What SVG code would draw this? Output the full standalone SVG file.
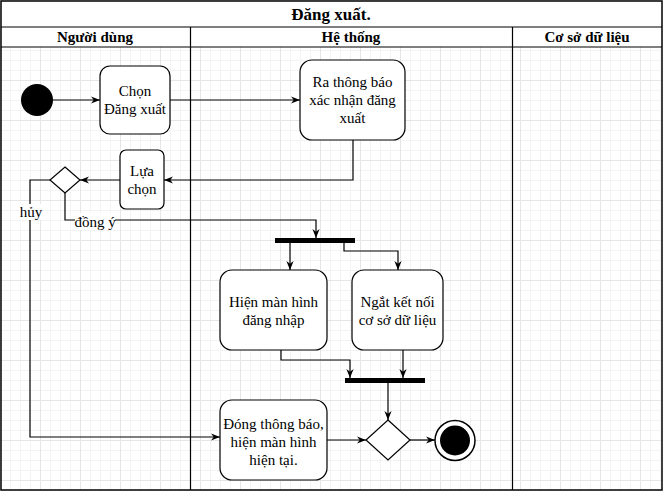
<svg xmlns="http://www.w3.org/2000/svg" width="663" height="491" viewBox="0 0 663 491">
<style>
.t{font-size:15px;text-anchor:middle;fill:#000}
.s{font-family:"Liberation Serif",serif}
.b{font-weight:bold}
.box{fill:#fff;stroke:#000;stroke-width:1.2}
.ln{fill:none;stroke:#000;stroke-width:1.2}
.c{fill:none;stroke:#000;stroke-width:1.2;marker-end:url(#arr)}
.lbl{fill:#fff}
</style>
<defs>
<pattern id="minor" width="10" height="10" patternUnits="userSpaceOnUse">
<path d="M0.5 0 V10 M0 0.5 H10" fill="none" stroke="#f3f3f3" stroke-width="1"/>
</pattern>
<pattern id="major" width="40" height="40" patternUnits="userSpaceOnUse">
<path d="M0.5 0 V40 M0 0.5 H40" fill="none" stroke="#e6e6e6" stroke-width="1"/>
</pattern>
<marker id="arr" viewBox="0 0 10 10" refX="10" refY="5" markerWidth="9" markerHeight="9" markerUnits="userSpaceOnUse" orient="auto">
<path d="M0,1 L10,5 L0,9 L3,5 Z" fill="#000"/>
</marker>
</defs>
<rect width="663" height="491" fill="#fff"/>
<rect width="663" height="491" fill="url(#minor)"/>
<rect width="663" height="491" fill="url(#major)"/>

<g id="pool">
<rect x="1" y="1" width="661" height="46" fill="#fff"/>
<rect x="1" y="1" width="661" height="489" fill="none" stroke="#000" stroke-width="1.5"/>
<line x1="1" y1="27" x2="662" y2="27" class="ln"/>
<line x1="1" y1="47" x2="662" y2="47" class="ln"/>
<line x1="190.5" y1="27" x2="190.5" y2="490" class="ln"/>
<line x1="512.5" y1="27" x2="512.5" y2="490" class="ln"/>
<text x="331" y="20" class="t b s" style="font-size:17px">Đăng xuất.</text>
<text x="95" y="42" class="t b s">Người dùng</text>
<text x="351" y="42" class="t b s">Hệ thống</text>
<text x="587" y="42" class="t b s">Cơ sở dữ liệu</text>
</g>

<g id="connectors">
<path d="M53 100 H100" class="c"/>
<path d="M170 100 H300" class="c"/>
<path d="M353 140 V180 H164" class="c"/>
<path d="M120 180 H80" class="c"/>
<path d="M50 180 H30 V437 H220" class="c"/>
<path d="M65 193 V220 H316 V238" class="c"/>
<path d="M290 243 V270" class="c"/>
<path d="M344 243 V251 H398 V270" class="c"/>
<path d="M281 350 V360 H350 V378" class="c"/>
<path d="M403 350 V378" class="c"/>
<path d="M388 383 V420" class="c"/>
<path d="M327 440 H366" class="c"/>
<path d="M410 440 H435" class="c"/>
<rect x="19" y="204" width="24" height="16" class="lbl"/>
<text x="31" y="217" class="t s">hủy</text>
<rect x="75" y="213" width="40" height="17" class="lbl"/>
<text x="95" y="227" class="t s">đồng ý</text>
</g>

<g id="start"><circle cx="37" cy="100" r="16" fill="#000"/></g>

<g id="chon">
<rect x="100" y="66" width="70" height="68" rx="10" class="box"/>
<text x="135" y="96" class="t s">Chọn</text>
<text x="135" y="114" class="t s">Đăng xuất</text>
</g>

<g id="rathongbao">
<rect x="300" y="60" width="105" height="80" rx="12" class="box"/>
<text x="352.5" y="87" class="t s">Ra thông báo</text>
<text x="352.5" y="105" class="t s">xác nhận đăng</text>
<text x="352.5" y="123" class="t s">xuất</text>
</g>

<g id="luachon">
<rect x="120" y="150" width="44" height="59" rx="6" class="box"/>
<text x="142" y="176" class="t s">Lựa</text>
<text x="142" y="194" class="t s">chọn</text>
</g>

<g id="decision1"><path d="M65 167 L80 180 L65 193 L50 180 Z" class="box"/></g>

<g id="fork"><rect x="275" y="238" width="80" height="5" fill="#000"/></g>

<g id="hienmanhinh">
<rect x="220" y="270" width="107" height="80" rx="12" class="box"/>
<text x="273.5" y="307" class="t s">Hiện màn hình</text>
<text x="273.5" y="325" class="t s">đăng nhập</text>
</g>

<g id="ngatketnoi">
<rect x="352" y="270" width="91" height="80" rx="12" class="box"/>
<text x="397.5" y="307" class="t s">Ngắt kết nối</text>
<text x="397.5" y="325" class="t s">cơ sở dữ liệu</text>
</g>

<g id="join"><rect x="345" y="378" width="80" height="5" fill="#000"/></g>

<g id="dongthongbao">
<rect x="220" y="400" width="107" height="80" rx="12" class="box"/>
<text x="273.5" y="429" class="t s">Đóng thông báo,</text>
<text x="273.5" y="447" class="t s">hiện màn hình</text>
<text x="273.5" y="465" class="t s">hiện tại.</text>
</g>

<g id="merge"><path d="M388 420 L410 440 L388 460 L366 440 Z" class="box"/></g>

<g id="end">
<circle cx="455" cy="440.5" r="20" fill="#fff" stroke="#000" stroke-width="1.5"/>
<circle cx="455" cy="440.5" r="15" fill="#000"/>
</g>
</svg>
